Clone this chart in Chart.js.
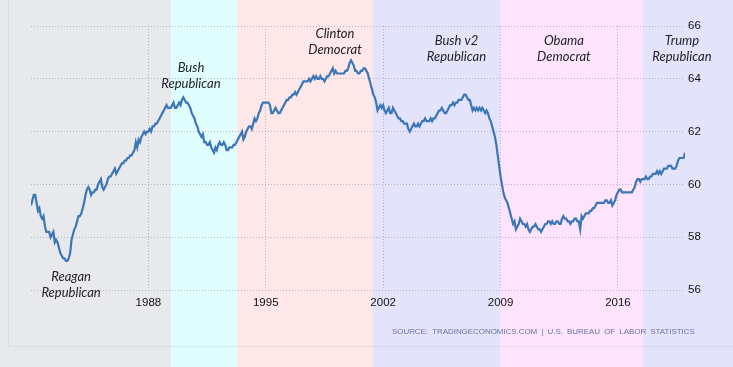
<!DOCTYPE html>
<html><head><meta charset="utf-8">
<script src="https://cdn.jsdelivr.net/npm/chart.js@4/dist/chart.umd.min.js"></script>
<style>html,body{margin:0;padding:0;background:#e8e9ed;overflow:hidden}</style>
</head><body><canvas id="c" width="733" height="367"></canvas>
<script>
// Monthly employment-to-population ratio (%), Jan 1981 .. Jan 2020
const startYear = 1981;
const v1981 = [59.2,59.4,59.6,59.6,59.3,59.0,59.1,58.8,58.7,58.8,58.4,58.2];
const v1982 = [58.2,58.2,58.0,58.1,58.2,57.8,57.9,57.8,57.6,57.4,57.3,57.2];
const v1983 = [57.2,57.1,57.1,57.2,57.4,57.9,58.1,58.3,58.4,58.6,58.8,58.8];
const v1984 = [58.9,59.1,59.3,59.6,59.8,59.9,59.8,59.6,59.7,59.7,59.8,59.8];
const v1985 = [60.0,60.1,60.2,59.9,59.8,59.9,60.0,60.2,60.3,60.3,60.4,60.5];
const v1986 = [60.6,60.4,60.5,60.6,60.7,60.8,60.8,60.9,60.9,61.0,61.0,61.1];
const v1987 = [61.1,61.2,61.3,61.6,61.4,61.7,61.6,61.8,61.9,62.0,61.9,62.0];
const v1988 = [62.0,62.1,62.0,62.2,62.2,62.3,62.3,62.4,62.5,62.6,62.7,62.8];
const v1989 = [62.9,63.0,62.9,62.9,62.9,63.0,63.1,62.9,62.9,63.0,63.1,63.0];
const v1990 = [63.2,63.3,63.2,63.1,63.1,63.0,62.9,62.7,62.6,62.5,62.3,62.2];
const v1991 = [62.0,61.9,61.8,61.9,61.6,61.6,61.5,61.5,61.6,61.4,61.3,61.2];
const v1992 = [61.4,61.3,61.5,61.6,61.5,61.5,61.6,61.5,61.3,61.3,61.4,61.4];
const v1993 = [61.4,61.5,61.5,61.6,61.7,61.8,61.9,62.0,61.7,61.8,62.0,62.1];
const v1994 = [62.2,62.2,62.1,62.3,62.5,62.4,62.5,62.7,62.8,63.0,63.1,63.1];
const v1995 = [63.1,63.1,63.1,63.0,62.7,62.7,62.8,62.9,62.8,62.7,62.7,62.8];
const v1996 = [62.9,63.0,63.1,63.2,63.2,63.3,63.3,63.4,63.4,63.5,63.4,63.5];
const v1997 = [63.6,63.7,63.8,63.9,63.9,63.9,63.9,64.0,63.9,64.0,64.1,64.0];
const v1998 = [64.1,64.0,64.0,64.1,64.0,64.0,63.9,64.0,64.1,64.1,64.2,64.3];
const v1999 = [64.4,64.2,64.3,64.2,64.2,64.2,64.2,64.2,64.2,64.3,64.3,64.4];
const v2000 = [64.6,64.7,64.6,64.5,64.3,64.3,64.2,64.2,64.3,64.3,64.4,64.4];
const v2001 = [64.3,64.2,64.0,63.8,63.6,63.4,63.3,63.1,62.8,62.9,63.0,62.9];
const v2002 = [63.0,62.8,62.7,62.8,62.9,62.7,62.7,62.9,62.8,62.7,62.6,62.5];
const v2003 = [62.5,62.4,62.4,62.3,62.3,62.3,62.1,62.0,62.1,62.2,62.3,62.2];
const v2004 = [62.2,62.3,62.2,62.3,62.4,62.4,62.5,62.4,62.4,62.4,62.5,62.4];
const v2005 = [62.5,62.5,62.6,62.7,62.8,62.8,62.9,62.8,62.7,62.7,62.8,62.9];
const v2006 = [63.0,63.0,63.1,63.0,63.1,63.1,63.2,63.2,63.2,63.3,63.4,63.4];
const v2007 = [63.3,63.2,63.2,63.0,62.8,62.9,62.8,62.9,62.8,62.9,62.8,62.9];
const v2008 = [62.8,62.7,62.8,62.7,62.5,62.4,62.2,62.0,61.8,61.5,61.1,60.7];
const v2009 = [60.3,60.0,59.7,59.5,59.4,59.3,59.1,58.9,58.7,58.5,58.6,58.3];
const v2010 = [58.4,58.5,58.7,58.6,58.5,58.5,58.4,58.5,58.3,58.2,58.3,58.4];
const v2011 = [58.4,58.5,58.4,58.3,58.3,58.2,58.3,58.4,58.5,58.5,58.6,58.6];
const v2012 = [58.5,58.6,58.5,58.5,58.6,58.6,58.5,58.5,58.7,58.8,58.7,58.7];
const v2013 = [58.6,58.6,58.5,58.6,58.6,58.7,58.7,58.6,58.6,58.3,58.8,58.7];
const v2014 = [58.8,58.9,58.9,58.9,59.0,59.0,59.1,59.1,59.2,59.3,59.3,59.3];
const v2015 = [59.3,59.3,59.3,59.4,59.4,59.3,59.3,59.4,59.2,59.3,59.4,59.6];
const v2016 = [59.7,59.8,59.8,59.7,59.7,59.7,59.7,59.7,59.7,59.7,59.7,59.8];
const v2017 = [59.9,60.1,60.2,60.2,60.1,60.2,60.2,60.2,60.3,60.2,60.2,60.3];
const v2018 = [60.3,60.4,60.4,60.4,60.5,60.4,60.5,60.4,60.5,60.6,60.6,60.6];
const v2019 = [60.7,60.7,60.7,60.6,60.6,60.6,60.7,60.9,61.0,61.0,61.0,61.0];
const v2020 = [61.2];
const ratio = [].concat(v1981,v1982,v1983,v1984,v1985,v1986,v1987,v1988,v1989,v1990,
  v1991,v1992,v1993,v1994,v1995,v1996,v1997,v1998,v1999,v2000,v2001,v2002,v2003,v2004,
  v2005,v2006,v2007,v2008,v2009,v2010,v2011,v2012,v2013,v2014,v2015,v2016,v2017,v2018,v2019,v2020);

const xTicks = [1988,1995,2002,2009,2016];
const yTicks = [56,58,60,62,64,66];

const eraNames   = ['Reagan','Bush','Clinton','Bush v2','Obama','Trump'];
const eraParties = ['Republican','Republican','Democrat','Republican','Democrat','Republican'];
const eraStarts  = [1981, 1989.35, 1993.28, 2001.41, 2008.97, 2017.51];
const eraLabelX  = [1983.39, 1990.54, 1999.13, 2006.37, 2012.78, 2019.82];
const eraLabelY  = [56.5, 64.42, 65.72, 65.44, 65.44, 65.44];
const eraColors  = ['#e8e9ed','#e0fefe','#fde7e8','#e3e3fc','#fde4fc','#e3e3fc'];

const sourceText = 'SOURCE: TRADINGECONOMICS.COM | U.S. BUREAU OF LABOR STATISTICS';

const erasPlugin = {
  id: 'eras',
  beforeDraw(chart) {
    const ctx = chart.ctx, x = chart.scales.x;
    const W = chart.width, H = chart.height;
    ctx.save();
    for (let i = 0; i < eraStarts.length; i++) {
      const x0 = i === 0 ? 0 : Math.round(x.getPixelForValue(eraStarts[i]));
      const x1 = i === eraStarts.length - 1 ? W : Math.round(x.getPixelForValue(eraStarts[i + 1]));
      ctx.fillStyle = eraColors[i];
      ctx.fillRect(x0, 0, x1 - x0, H);
    }
    ctx.strokeStyle = 'rgba(0,0,0,0.06)';
    ctx.lineWidth = 1;
    ctx.beginPath();
    ctx.moveTo(8.5, 0); ctx.lineTo(8.5, 346.5); ctx.lineTo(W, 346.5);
    ctx.stroke();
    ctx.restore();
  },
  afterDraw(chart) {
    const ctx = chart.ctx, x = chart.scales.x, y = chart.scales.y;
    ctx.save();
    ctx.fillStyle = '#222228';
    ctx.font = 'italic 13px Lato, "Open Sans", sans-serif';
    ctx.textAlign = 'center';
    ctx.textBaseline = 'middle';
    for (let i = 0; i < eraNames.length; i++) {
      const px = x.getPixelForValue(eraLabelX[i]);
      const py = y.getPixelForValue(eraLabelY[i]);
      ctx.fillText(eraNames[i], px, py);
      ctx.fillText(eraParties[i], px, py + 16);
    }
    // source line, fitted between x=392 and x=695
    ctx.font = '8px "Liberation Sans", Arial, sans-serif';
    ctx.fillStyle = '#6c73a0';
    ctx.textAlign = 'left';
    ctx.wordSpacing = '2px';
    ctx.letterSpacing = '0px';
    const target = 303;
    const w0 = ctx.measureText(sourceText).width;
    const ls = (target - w0) / sourceText.length;
    ctx.letterSpacing = ls.toFixed(2) + 'px';
    ctx.fillText(sourceText, 392, 332);
    ctx.restore();
  }
};

const gridColor = 'rgba(110,110,130,0.45)';
const tickFont = { family: '"Liberation Sans", Arial, sans-serif', size: 11.5 };

new Chart(document.getElementById('c'), {
  type: 'line',
  data: {
    datasets: [{
      data: ratio.map((v, i) => ({ x: startYear + i / 12, y: v })),
      borderColor: '#3b76b6',
      borderWidth: 2.2,
      pointRadius: 0,
      tension: 0,
      fill: false
    }]
  },
  options: {
    responsive: false,
    animation: false,
    devicePixelRatio: 1,
    layout: { padding: { left: 31, top: 26, right: 0, bottom: 0 } },
    plugins: { legend: { display: false }, tooltip: { enabled: false } },
    scales: {
      x: {
        type: 'linear', min: 1981, max: 2020,
        afterBuildTicks: s => { s.ticks = xTicks.map(v => ({ value: v })); },
        afterFit: s => { s.height = 77; },
        grid: { color: gridColor, lineWidth: 1, drawTicks: false },
        border: { display: false, dash: [1, 2] },
        ticks: { padding: 6, color: '#111', font: tickFont, maxRotation: 0, autoSkip: false, callback: v => String(v) }
      },
      y: {
        position: 'right', min: 56, max: 66,
        afterBuildTicks: s => { s.ticks = yTicks.map(v => ({ value: v })); },
        afterFit: s => { s.width = 48; },
        grid: { color: gridColor, lineWidth: 1, drawTicks: false },
        border: { display: false, dash: [1, 2] },
        ticks: { padding: 3, color: '#111', font: tickFont, callback: v => String(v) }
      }
    }
  },
  plugins: [erasPlugin]
});
</script>
</body></html>
